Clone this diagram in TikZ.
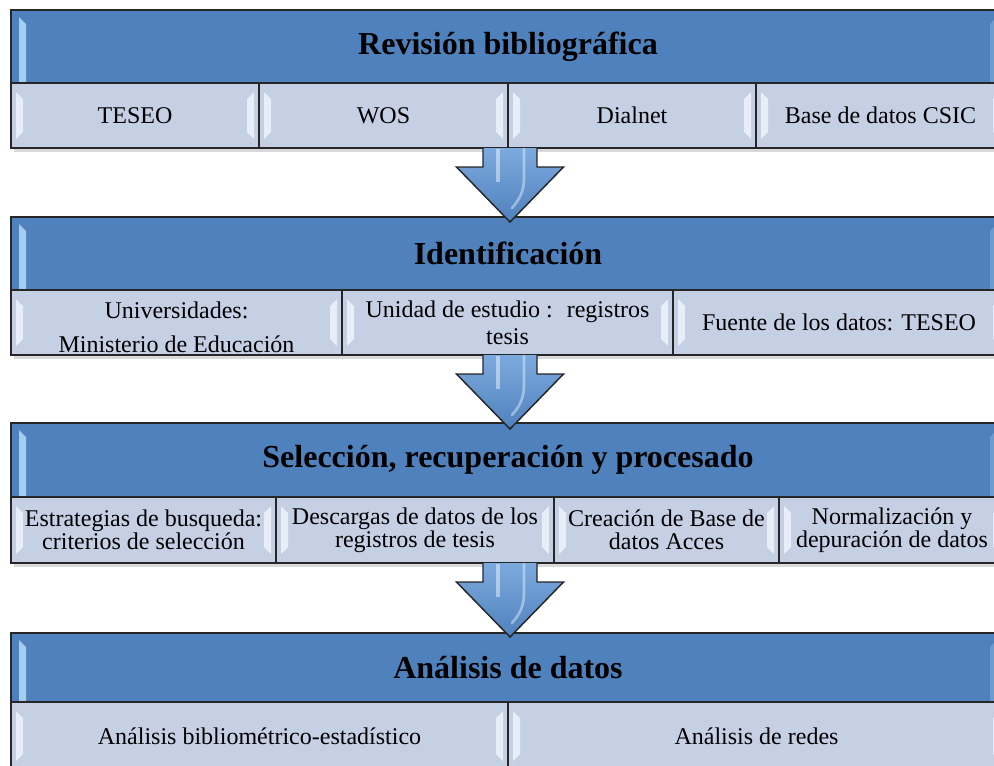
\documentclass[tikz,border=0pt]{standalone}
\usepackage{fontspec}
\setmainfont{Liberation Serif}

\definecolor{azulcab}{RGB}{79,129,189}
\definecolor{azulcelda}{RGB}{197,208,228}
\definecolor{brillocelda}{RGB}{232,238,248}
\definecolor{brillocab}{RGB}{165,205,238}
\definecolor{flechaclara}{RGB}{125,170,222}

\def\izq{11}
\def\der{1005}

% header strip of a block: name, x1, y1, x2, y2, text
\newcommand{\cabecera}[6]{%
  \fill[cabfill] (#2,#3) rectangle (#4,#5);
  \fill[cabbrillo] (#2+8,#3+7) -- (#2+15,#3+14) -- (#2+15,#5) -- (#2+8,#5) -- cycle;
  \fill[cabbrillo, opacity=.35] (#4-8,#3+7) -- (#4-15,#3+14) -- (#4-15,#5) -- (#4-8,#5) -- cycle;
  \draw[borde] (#2,#3) rectangle (#4,#5);
  \node[cabtext] (#1) at ({(#2+#4)/2},{(#3+#5)/2}) {#6};
}

% one cell of the lower row
\newcommand{\celda}[6]{%
  \fill[celfill] (#2,#3) rectangle (#4,#5);
  \fill[brillo] (#2+5,#3+9) -- (#2+12,#3+16) -- (#2+12,#5-16) -- (#2+5,#5-9) -- cycle;
  \fill[brillo] (#4-5,#3+9) -- (#4-12,#3+16) -- (#4-12,#5-16) -- (#4-5,#5-9) -- cycle;
  \draw[borde] (#2,#3) rectangle (#4,#5);
  \node[celtext] (#1) at ({(#2+#4)/2},{(#3+#5)/2}) {#6};
}

% block arrow hanging from a coordinate
\newcommand{\flecha}[1]{%
  \begin{scope}[shift={(#1)}]
    \shade[top color=flechaclara, bottom color=azulcab]
      (-27,0) -- (-27,19) -- (-53.5,19) -- (0,74) -- (53.5,19) -- (27,19) -- (27,0) -- cycle;
    \fill[white, opacity=.45] (-14,1) rectangle (-10,34);
    \draw[white, opacity=.4, line width=2pt, line cap=round]
      (14,1) -- (14,30) .. controls (14,44) and (9,52) .. (2,60);
    \draw[borde] (-27,0) -- (-27,19) -- (-53.5,19) -- (0,74) -- (53.5,19) -- (27,19) -- (27,0);
  \end{scope}
}

\begin{document}
\begin{tikzpicture}[x=0.75pt, y=-0.75pt,
    cabfill/.style={fill=azulcab},
    celfill/.style={fill=azulcelda},
    cabbrillo/.style={fill=brillocab},
    brillo/.style={fill=brillocelda},
    borde/.style={draw=black!85, line width=1.1pt, line join=miter},
    sombra/.style={fill=black!15},
    cabtext/.style={font=\fontsize{24}{28}\selectfont\bfseries, inner sep=0pt},
    celtext/.style={font=\fontsize{18}{17.5}\selectfont, align=center, inner sep=0pt}]
  \useasboundingbox (0,0) rectangle (994,765);
  \clip (0,0) rectangle (994,765);
  \fill[white] (0,0) rectangle (994,765);

  % Revision
  \fill[sombra] (\izq+3,148) rectangle (\der,152);
  \cabecera{revision}{\izq}{10}{\der}{83}{Revisión bibliográfica}
  \celda{teseo}{\izq}{83}{259}{148}{TESEO}
  \celda{wos}{259}{83}{508}{148}{WOS}
  \celda{dialnet}{508}{83}{756}{148}{Dialnet}
  \celda{csic}{756}{83}{\der}{148}{Base de datos CSIC}
  \draw[borde, line width=1.5pt] (\izq,10) rectangle (\der,148);

  % Identificacion
  \fill[sombra] (\izq+3,355) rectangle (\der,359);
  \cabecera{identificacion}{\izq}{217}{\der}{290}{Identificación}
  \celda{universidades}{\izq}{290}{342}{355}{\rule{0pt}{20pt}Universidades:\\[8pt]Ministerio de Educación}
  \celda{unidad}{342}{290}{673}{355}{Unidad de estudio :~ registros\\[2.5pt]tesis}
  \celda{fuente}{673}{290}{\der}{355}{Fuente de los datos: TESEO}
  \draw[borde, line width=1.5pt] (\izq,217) rectangle (\der,355);

  % Seleccion
  \fill[sombra] (\izq+3,563) rectangle (\der,567);
  \cabecera{seleccion}{\izq}{423}{\der}{497}{Selección, recuperación y procesado}
  \celda{estrategias}{\izq}{497}{276}{563}{Estrategias de busqueda:\\criterios de selección}
  \celda{descargas}{276}{497}{554}{563}{Descargas de datos de los\\registros de tesis}
  \celda{creacion}{554}{497}{779}{563}{Creación de Base de\\datos Acces}
  \celda{normalizacion}{779}{497}{\der}{563}{Normalización y\\depuración de datos}
  \draw[borde, line width=1.5pt] (\izq,423) rectangle (\der,563);

  % Analisis
  \cabecera{analisis}{\izq}{633}{\der}{702}{Análisis de datos}
  \celda{bibliometrico}{\izq}{702}{508}{770}{Análisis bibliométrico-estadístico}
  \celda{redes}{508}{702}{\der}{770}{Análisis de redes}
  \draw[borde, line width=1.5pt] (\izq,633) rectangle (\der,770);

  \coordinate (f1) at (510,148);
  \coordinate (f2) at (510,355);
  \coordinate (f3) at (510,563);
  \flecha{f1}
  \flecha{f2}
  \flecha{f3}
\end{tikzpicture}
\end{document}
